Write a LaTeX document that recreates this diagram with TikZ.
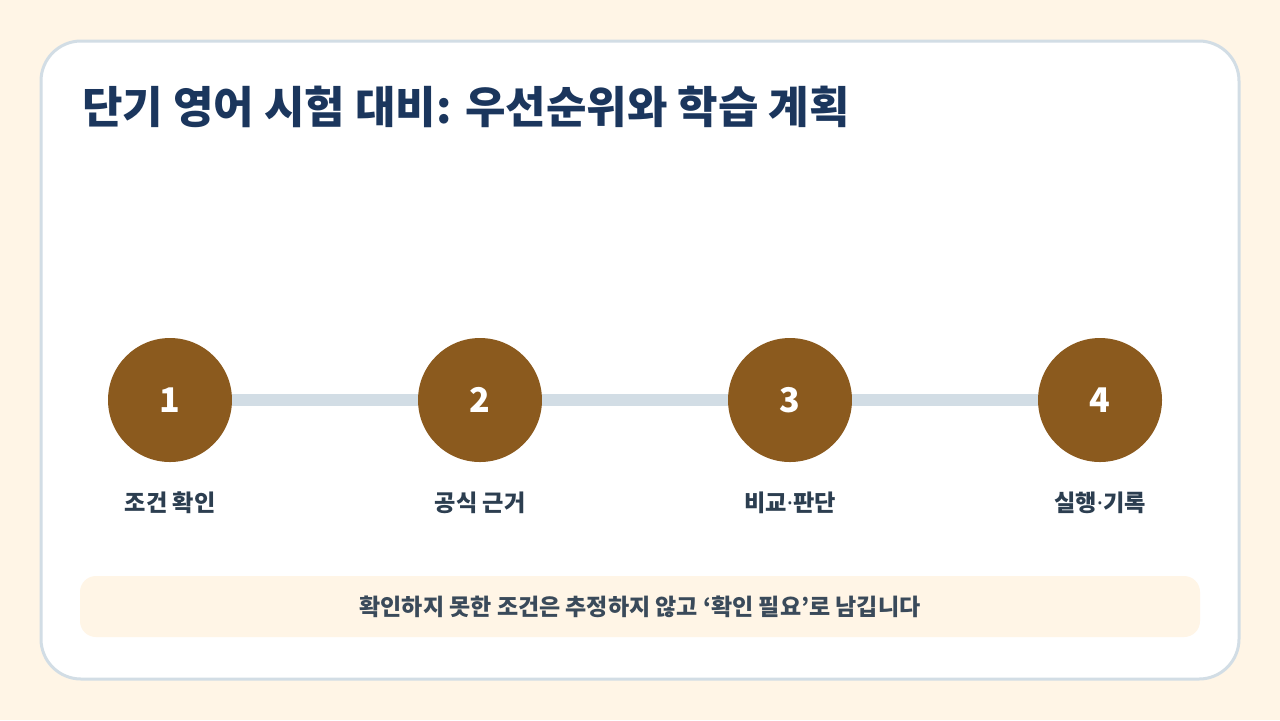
\documentclass[tikz,border=0pt]{standalone}
\usepackage{fontspec}
\setmainfont{Noto Sans CJK KR}
\newfontfamily\latinsans{Noto Sans}
\newcommand{\middot}{{\latinsans\bfseries ·}}
\definecolor{PageCream}{RGB}{255, 245, 230}
\definecolor{CardLine}{RGB}{210, 221, 229}
\definecolor{TitleNavy}{RGB}{27, 54, 93}
\definecolor{StepBrown}{RGB}{139, 90, 30}
\definecolor{LabelSlate}{RGB}{44, 62, 80}
\definecolor{NoteText}{RGB}{58, 74, 90}
\usetikzlibrary{positioning}

\begin{document}
\begin{tikzpicture}[x=0.5pt, y=-0.5pt,
        stepdot/.style={circle, fill=StepBrown, minimum size=62pt, inner sep=0pt, text=white, font=\bfseries\fontsize{17}{20}\selectfont},
        steplabel/.style={inner sep=0pt, text=LabelSlate, font=\bfseries\fontsize{11.6}{14}\selectfont},
        link/.style={draw=CardLine, line width=6pt},
        notebar/.style={fill=PageCream, rounded corners=8pt, minimum width=560pt, minimum height=30.5pt, inner sep=0pt, text=NoteText, font=\bfseries\fontsize{11.5}{14}\selectfont}]
        \useasboundingbox (0, 0) rectangle (1280, 720);
        \fill[PageCream] (0, 0) rectangle (1280, 720);
        \draw[CardLine, line width=1.5pt, fill=white, rounded corners=20pt] (41, 41) rectangle (1239, 679);

        \node[anchor=west, inner sep=0pt, text=TitleNavy, font=\bfseries\fontsize{22}{26}\selectfont] (title) at (82, 107) {단기 영어 시험 대비: 우선순위와 학습 계획};

        % steps
        \node[stepdot] (s1) at (170, 400) {1};
        \node[stepdot] (s2) at (480, 400) {2};
        \node[stepdot] (s3) at (790, 400) {3};
        \node[stepdot] (s4) at (1100, 400) {4};
        \draw[link] (s1) -- (s2);
        \draw[link] (s2) -- (s3);
        \draw[link] (s3) -- (s4);

        \node[steplabel] (l1) at (170, 503) {조건 확인};
        \node[steplabel] (l2) at (480, 503) {공식 근거};
        \node[steplabel] (l3) at (790, 503) {비교\middot 판단};
        \node[steplabel] (l4) at (1100, 503) {실행\middot 기록};

        \node[notebar] (note) at (640, 606.5) {확인하지 못한 조건은 추정하지 않고 ‘확인 필요’로 남깁니다};
    \end{tikzpicture}
\end{document}
